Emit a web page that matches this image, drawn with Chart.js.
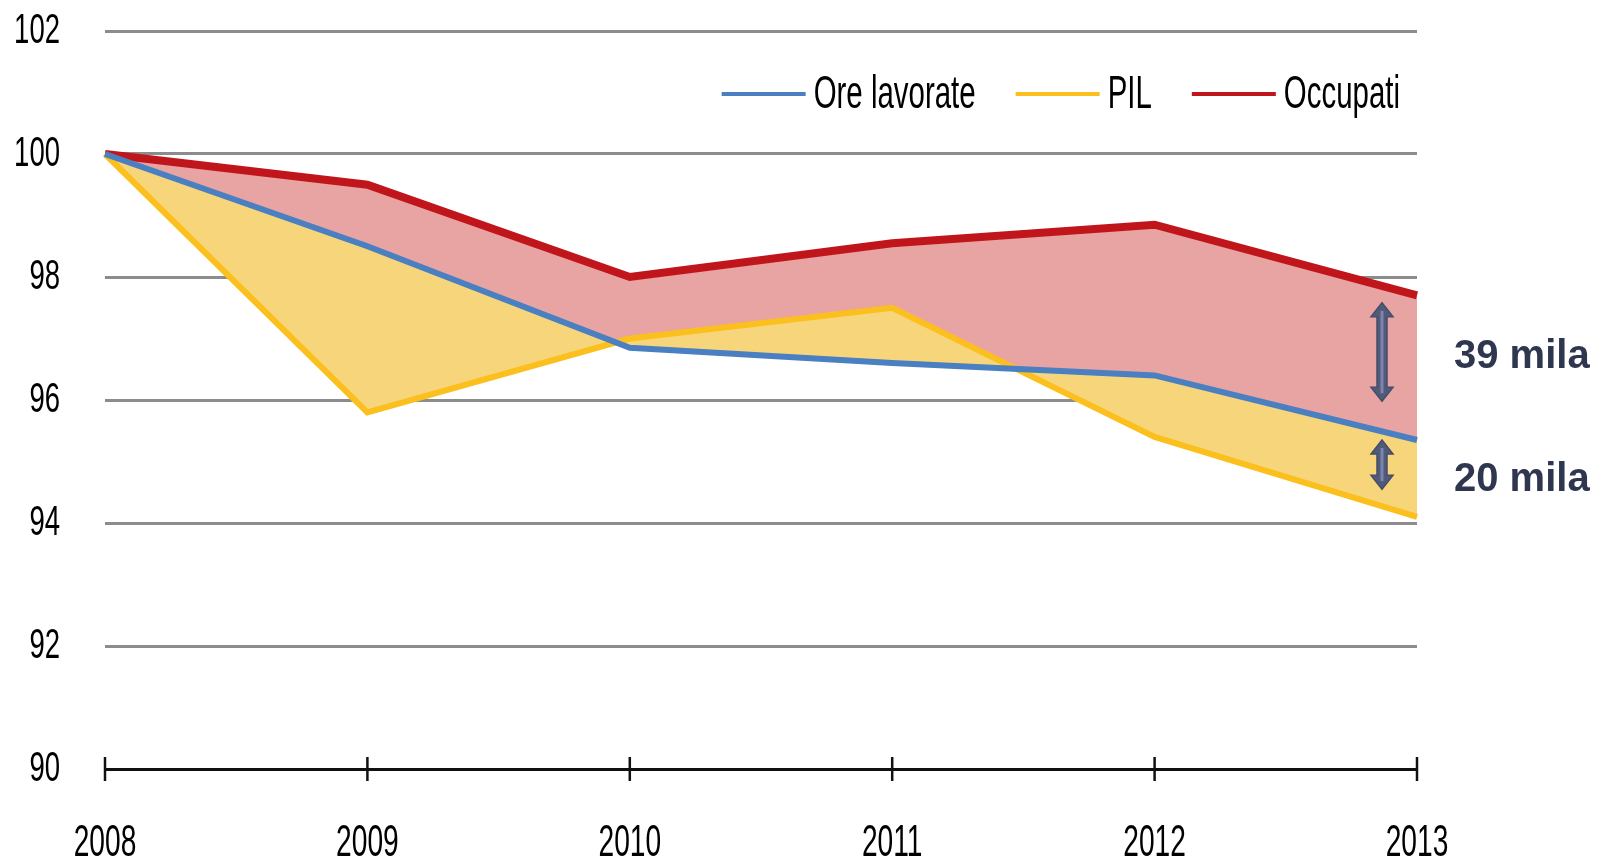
<!DOCTYPE html>
<html>
<head>
<meta charset="utf-8">
<script src="https://cdn.jsdelivr.net/npm/chart.js@4"></script>
<style>
  html, body { margin: 0; padding: 0; background: #fff; }
  #wrap { width: 1597px; height: 859px; }
</style>
</head>
<body>
<div id="wrap"><canvas id="chart"></canvas></div>
<script>
// data (index, 2008 = 100)
const years = ['2008', '2009', '2010', '2011', '2012', '2013'];
const oreLavorate = [100, 98.5, 96.85, 96.6, 96.4, 95.35];
const pil = [100, 95.8, 97.0, 97.5, 95.4, 94.1];
const occupati = [100, 99.5, 98.0, 98.55, 98.85, 97.7];
const yTicks = [90, 92, 94, 96, 98, 100, 102];

// gaps marked at the right edge
const gapLabels = ['39 mila', '20 mila'];
const gapFrom = [97.58, 95.35];
const gapTo = [95.98, 94.55];
const gapTextAt = [96.7, 94.7];

// no narrow font installed: squeeze the regular one horizontally
const narrow = '"Liberation Sans Narrow", "Liberation Sans", Arial, sans-serif';
const SQUEEZE = 0.64;

function patchNarrow(ctx) {
    const orig = ctx.fillText;
    ctx.fillText = function (text, x, y, maxWidth) {
        if (this.font.indexOf('Narrow') === -1) {
            return maxWidth === undefined ? orig.call(this, text, x, y) : orig.call(this, text, x, y, maxWidth);
        }
        this.save();
        this.translate(x, y);
        this.scale(SQUEEZE, 1);
        orig.call(this, text, 0, 0);
        this.restore();
    };
}

// legend drawn inside the plot, top right
const legendPlugin = {
    id: 'legendInside',
    afterDraw(chart) {
        const ctx = chart.ctx;
        const area = chart.chartArea;
        const items = chart.data.datasets;
        ctx.save();
        ctx.font = '46px ' + narrow;
        ctx.textBaseline = 'middle';
        ctx.textAlign = 'left';
        const lineLen = 84, gapLine = 8, gapItem = 40;
        const w = t => ctx.measureText(t).width * SQUEEZE;
        let total = 0;
        items.forEach((d, i) => {
            total += lineLen + gapLine + w(d.label);
            if (i < items.length - 1) total += gapItem;
        });
        let x = area.right - 17 - total;
        const y = 94;
        items.forEach(d => {
            ctx.strokeStyle = d.borderColor;
            ctx.lineWidth = 4;
            ctx.beginPath();
            ctx.moveTo(x, y);
            ctx.lineTo(x + lineLen, y);
            ctx.stroke();
            x += lineLen + gapLine;
            ctx.fillStyle = '#000';
            ctx.fillText(d.label, x, y + 1);
            x += w(d.label) + gapItem;
        });
        ctx.restore();
    }
};

// x axis ticks crossing the axis line
const crossTicks = {
    id: 'crossTicks',
    afterDraw(chart) {
        const ctx = chart.ctx;
        const xs = chart.scales.x;
        const y0 = chart.chartArea.bottom;
        ctx.save();
        ctx.strokeStyle = '#111';
        ctx.lineWidth = 2.5;
        years.forEach((_, i) => {
            const x = xs.getPixelForValue(i);
            ctx.beginPath();
            ctx.moveTo(x, y0 - 12);
            ctx.lineTo(x, y0 + 12);
            ctx.stroke();
        });
        ctx.restore();
    }
};

function drawDoubleArrow(ctx, x, yTop, yBot) {
    const shaft = 5, head = 11, headLen = 14;
    ctx.beginPath();
    ctx.moveTo(x, yTop);
    ctx.lineTo(x + head, yTop + headLen);
    ctx.lineTo(x + shaft, yTop + headLen);
    ctx.lineTo(x + shaft, yBot - headLen);
    ctx.lineTo(x + head, yBot - headLen);
    ctx.lineTo(x, yBot);
    ctx.lineTo(x - head, yBot - headLen);
    ctx.lineTo(x - shaft, yBot - headLen);
    ctx.lineTo(x - shaft, yTop + headLen);
    ctx.lineTo(x - head, yTop + headLen);
    ctx.closePath();
    ctx.fillStyle = '#525a7a';
    ctx.fill();
    ctx.strokeStyle = '#464d6a';
    ctx.lineWidth = 1.5;
    ctx.stroke();
    // lighter stripe along the shaft
    ctx.beginPath();
    ctx.moveTo(x, yTop + 8);
    ctx.lineTo(x, yBot - 8);
    ctx.strokeStyle = '#7a85ad';
    ctx.lineWidth = 3;
    ctx.stroke();
}

const gapPlugin = {
    id: 'gaps',
    afterDraw(chart) {
        const ctx = chart.ctx;
        const xs = chart.scales.x, ys = chart.scales.y;
        const xArrow = xs.getPixelForValue(years.length - 1) - 35;
        const xText = chart.chartArea.right + 37;
        ctx.save();
        gapLabels.forEach((t, i) => {
            drawDoubleArrow(ctx, xArrow, ys.getPixelForValue(gapFrom[i]), ys.getPixelForValue(gapTo[i]));
            ctx.font = 'bold 40px "Liberation Sans", Arial, sans-serif';
            ctx.fillStyle = '#2f3650';
            ctx.textBaseline = 'middle';
            ctx.textAlign = 'left';
            ctx.fillText(t, xText, ys.getPixelForValue(gapTextAt[i]));
        });
        ctx.restore();
    }
};

const ctx = document.getElementById('chart').getContext('2d');
patchNarrow(ctx);

new Chart(ctx, {
    type: 'line',
    data: {
        labels: years,
        datasets: [
            {
                label: 'Ore lavorate',
                data: oreLavorate,
                borderColor: '#4a7fc1',
                borderWidth: 6,
                fill: false,
                pointRadius: 0,
                tension: 0
            },
            {
                label: 'PIL',
                data: pil,
                borderColor: '#fbbf1e',
                backgroundColor: '#f7d67b',
                borderWidth: 6,
                fill: 0,
                pointRadius: 0,
                tension: 0
            },
            {
                label: 'Occupati',
                data: occupati,
                borderColor: '#c0161b',
                backgroundColor: '#e8a3a3',
                borderWidth: 8,
                fill: 0,
                pointRadius: 0,
                tension: 0
            }
        ]
    },
    options: {
        responsive: true,
        maintainAspectRatio: false,
        animation: false,
        layout: { padding: { top: 31, right: 180, bottom: 0, left: 0 } },
        plugins: {
            legend: { display: false },
            tooltip: { enabled: false }
        },
        scales: {
            x: {
                offset: false,
                grid: { display: false, drawTicks: false },
                border: { display: true, color: '#111', width: 3 },
                ticks: {
                    padding: 48,
                    color: '#000',
                    font: { family: narrow, size: 44 },
                    maxRotation: 0
                },
                afterFit(scale) {
                    scale.height = 90;
                    scale.paddingLeft = 0;
                    scale.paddingRight = 0;
                }
            },
            y: {
                min: 90,
                max: 102,
                afterBuildTicks(scale) { scale.ticks = yTicks.map(v => ({ value: v })); },
                grid: {
                    drawTicks: false,
                    color: c => c.tick && c.tick.value === 90 ? 'rgba(0,0,0,0)' : '#8c8c8c',
                    lineWidth: 3
                },
                border: { display: false },
                ticks: {
                    padding: 45,
                    color: '#000',
                    font: { family: narrow, size: 43 }
                },
                afterFit(scale) {
                    scale.width = 105;
                    scale.paddingTop = 0;
                    scale.paddingBottom = 0;
                }
            }
        }
    },
    plugins: [legendPlugin, crossTicks, gapPlugin]
});
</script>
</body>
</html>
